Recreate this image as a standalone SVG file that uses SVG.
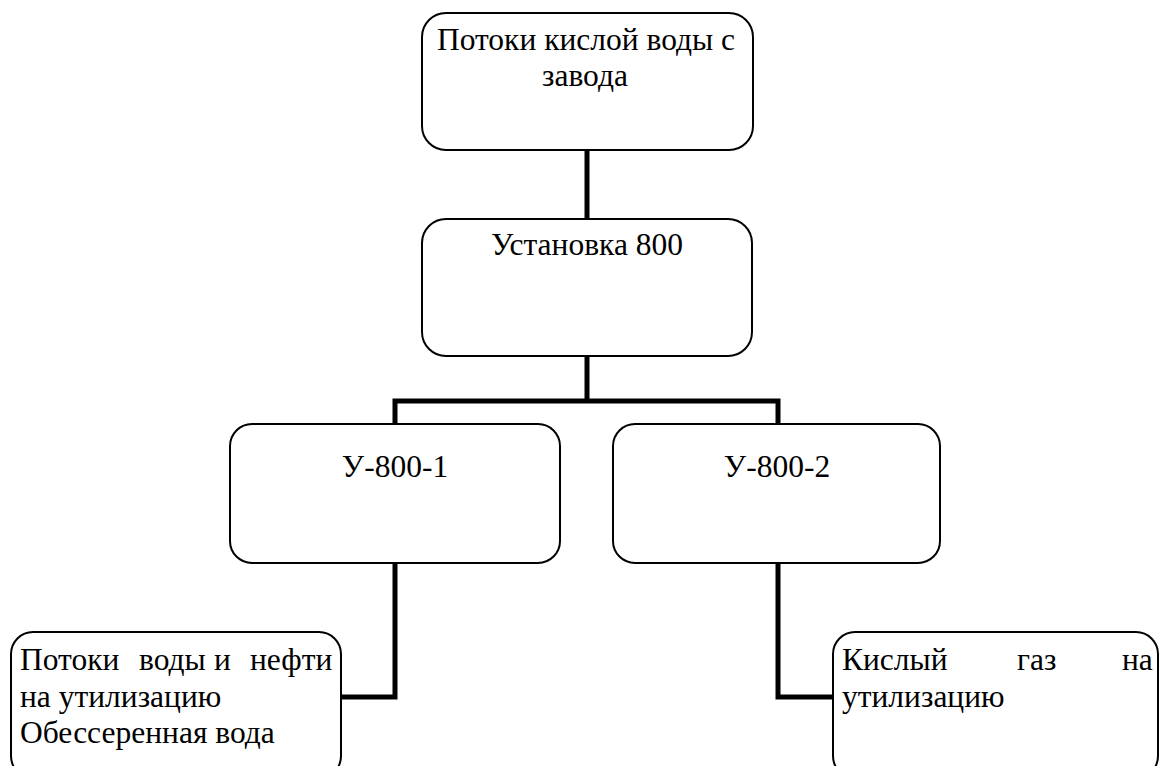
<svg xmlns="http://www.w3.org/2000/svg" width="1160" height="766" viewBox="0 0 1160 766">
<style>
.box{fill:#fff;stroke:#000;stroke-width:2}
.conn{fill:none;stroke:#000;stroke-width:5;stroke-linejoin:miter}
</style>
<rect width="1160" height="766" fill="#fff"/>
<g id="connectors">
<path class="conn" d="M587,150 V219"/>
<path class="conn" d="M587,356 V401"/>
<path class="conn" d="M395,424 V401 H778 V424"/>
<path class="conn" d="M395,563 V697 H341"/>
<path class="conn" d="M778,563 V697 H833"/>
</g>
<g id="node-top">
<rect class="box" x="422" y="13" width="331" height="137" rx="24"/>
<text x="586" y="50" text-anchor="middle" font-family="Liberation Serif" font-size="31.5">Потоки кислой воды с</text>
<text x="585" y="86" text-anchor="middle" font-family="Liberation Serif" font-size="31.5">завода</text>
</g>
<g id="node-u800">
<rect class="box" x="422" y="219" width="330" height="137" rx="24"/>
<text x="587" y="255" text-anchor="middle" font-family="Liberation Serif" font-size="31.5">Установка 800</text>
</g>
<g id="node-u800-1">
<rect class="box" x="230" y="424" width="330" height="139" rx="22"/>
<text x="395" y="477" text-anchor="middle" font-family="Liberation Serif" font-size="31.5">У-800-1</text>
</g>
<g id="node-u800-2">
<rect class="box" x="613" y="424" width="327" height="139" rx="22"/>
<text x="777" y="477" text-anchor="middle" font-family="Liberation Serif" font-size="31.5">У-800-2</text>
</g>
<g id="node-water">
<rect class="box" x="11" y="632" width="330" height="146" rx="22"/>
<text y="670" font-family="Liberation Serif" font-size="31.5"><tspan x="20">Потоки</tspan><tspan x="139">воды</tspan><tspan x="214">и</tspan><tspan x="250">нефти</tspan></text>
<text x="20" y="707" font-family="Liberation Serif" font-size="31.5">на утилизацию</text>
<text x="20" y="743" font-family="Liberation Serif" font-size="31.5">Обессеренная вода</text>
</g>
<g id="node-gas">
<rect class="box" x="833" y="632" width="325" height="146" rx="22"/>
<text y="670" font-family="Liberation Serif" font-size="31.5"><tspan x="842">Кислый</tspan><tspan x="1017">газ</tspan><tspan x="1122">на</tspan></text>
<text x="842" y="707" font-family="Liberation Serif" font-size="31.5">утилизацию</text>
</g>
</svg>
